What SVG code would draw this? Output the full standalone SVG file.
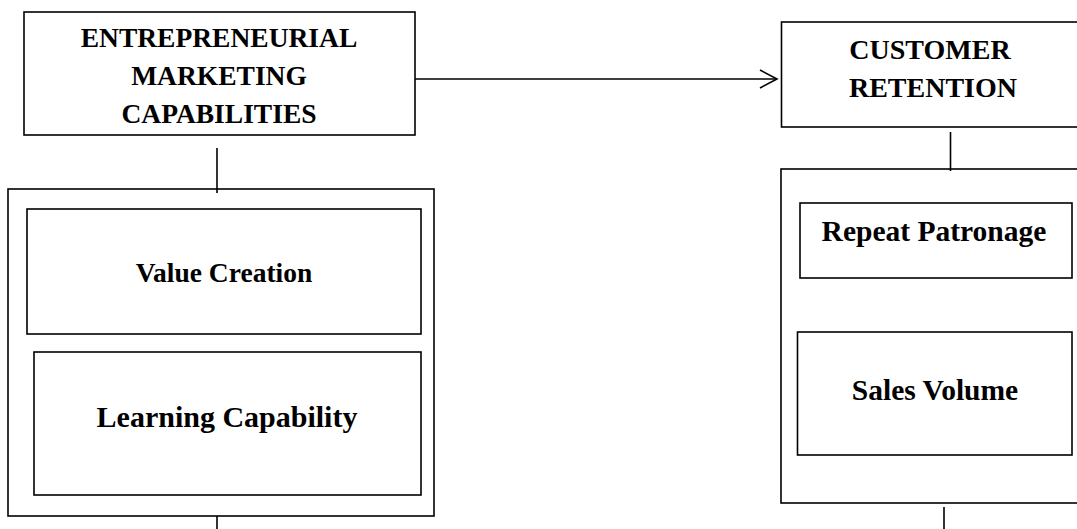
<svg xmlns="http://www.w3.org/2000/svg" width="1077" height="529" viewBox="0 0 1077 529">
<defs>
<style>
.box{fill:#fff;stroke:#000;stroke-width:1.6}
.ln{fill:none;stroke:#000;stroke-width:1.6}
.t{font-family:"Liberation Serif","Times New Roman",serif;font-weight:bold;fill:#000;text-anchor:middle}
</style>
<marker id="open" viewBox="0 0 20 20" refX="18" refY="10" markerWidth="20" markerHeight="20" markerUnits="userSpaceOnUse" orient="auto">
<path d="M1,1 L18,10 L1,19" fill="none" stroke="#000" stroke-width="1.6"/>
</marker>
</defs>
<rect width="1077" height="529" fill="#fff"/>
<g id="connectors">
<line class="ln" x1="415" y1="79" x2="777" y2="79" marker-end="url(#open)"/>
<line class="ln" x1="217" y1="148" x2="217" y2="193"/>
<line class="ln" x1="217" y1="516" x2="217" y2="529"/>
<line class="ln" x1="950.5" y1="132" x2="950.5" y2="171"/>
<line class="ln" x1="944" y1="507" x2="944" y2="529"/>
</g>
<g id="emc">
<rect class="box" x="24" y="12" width="391" height="123"/>
<text class="t" font-size="27.5" x="219" y="46.5">ENTREPRENEURIAL</text>
<text class="t" font-size="27.5" x="219" y="85">MARKETING</text>
<text class="t" font-size="27.5" x="219" y="123">CAPABILITIES</text>
</g>
<g id="emc-dimensions">
<rect class="box" x="8" y="189" width="426" height="327"/>
<line class="ln" x1="217" y1="189" x2="217" y2="193"/>
</g>
<g id="value-creation">
<rect class="box" x="27" y="209" width="394" height="125"/>
<text class="t" font-size="27.5" x="224" y="281.5">Value Creation</text>
</g>
<g id="learning-capability">
<rect class="box" x="34" y="352" width="387" height="143"/>
<text class="t" font-size="30" x="227" y="426.5">Learning Capability</text>
</g>
<g id="customer-retention">
<rect class="box" x="781.5" y="22" width="310" height="105"/>
<text class="t" font-size="28" x="930" y="59">CUSTOMER</text>
<text class="t" font-size="28" x="933" y="96.5">RETENTION</text>
</g>
<g id="cr-dimensions">
<rect class="box" x="781" y="169" width="310" height="334"/>
<line class="ln" x1="950.5" y1="169" x2="950.5" y2="171"/>
</g>
<g id="repeat-patronage">
<rect class="box" x="800" y="203" width="272" height="75"/>
<text class="t" font-size="29.5" x="934" y="240.5">Repeat Patronage</text>
</g>
<g id="sales-volume">
<rect class="box" x="797.5" y="332" width="274.5" height="123"/>
<text class="t" font-size="29.5" x="935" y="399.5">Sales Volume</text>
</g>
</svg>
